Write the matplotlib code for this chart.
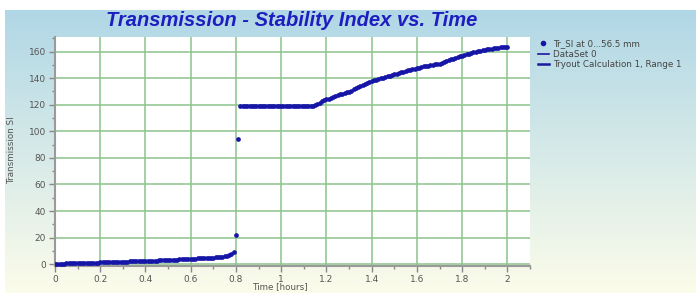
import numpy as np
import matplotlib
matplotlib.use("Agg")
import matplotlib.pyplot as plt
from matplotlib.lines import Line2D
from matplotlib.ticker import MultipleLocator, FuncFormatter

# sample times (hours)
time_h = [
    0.00, 0.01, 0.02, 0.03, 0.04, 0.05, 0.06, 0.07, 0.08, 0.09,
    0.10, 0.11, 0.12, 0.13, 0.14, 0.15, 0.16, 0.17, 0.18, 0.19,
    0.20, 0.21, 0.22, 0.23, 0.24, 0.25, 0.26, 0.27, 0.28, 0.29,
    0.30, 0.31, 0.32, 0.33, 0.34, 0.35, 0.36, 0.37, 0.38, 0.39,
    0.40, 0.41, 0.42, 0.43, 0.44, 0.45, 0.46, 0.47, 0.48, 0.49,
    0.50, 0.51, 0.52, 0.53, 0.54, 0.55, 0.56, 0.57, 0.58, 0.59,
    0.60, 0.61, 0.62, 0.63, 0.64, 0.65, 0.66, 0.67, 0.68, 0.69,
    0.70, 0.71, 0.72, 0.73, 0.74, 0.75, 0.76, 0.77, 0.78, 0.79,
    0.80, 0.81, 0.82, 0.83, 0.84, 0.85, 0.86, 0.87, 0.88, 0.89,
    0.90, 0.91, 0.92, 0.93, 0.94, 0.95, 0.96, 0.97, 0.98, 0.99,
    1.00, 1.01, 1.02, 1.03, 1.04, 1.05, 1.06, 1.07, 1.08, 1.09,
    1.10, 1.11, 1.12, 1.13, 1.14, 1.15, 1.16, 1.17, 1.18, 1.19,
    1.20, 1.21, 1.22, 1.23, 1.24, 1.25, 1.26, 1.27, 1.28, 1.29,
    1.30, 1.31, 1.32, 1.33, 1.34, 1.35, 1.36, 1.37, 1.38, 1.39,
    1.40, 1.41, 1.42, 1.43, 1.44, 1.45, 1.46, 1.47, 1.48, 1.49,
    1.50, 1.51, 1.52, 1.53, 1.54, 1.55, 1.56, 1.57, 1.58, 1.59,
    1.60, 1.61, 1.62, 1.63, 1.64, 1.65, 1.66, 1.67, 1.68, 1.69,
    1.70, 1.71, 1.72, 1.73, 1.74, 1.75, 1.76, 1.77, 1.78, 1.79,
    1.80, 1.81, 1.82, 1.83, 1.84, 1.85, 1.86, 1.87, 1.88, 1.89,
    1.90, 1.91, 1.92, 1.93, 1.94, 1.95, 1.96, 1.97, 1.98, 1.99,
    2.00,
]

# Tr_SI at 0...56.5 mm
tr_si = [
    0.3, 0.35, 0.4, 0.45, 0.5, 0.55, 0.6, 0.65, 0.7, 0.75,
    0.8, 0.85, 0.9, 0.95, 1.0, 1.05, 1.1, 1.15, 1.2, 1.25,
    1.3, 1.35, 1.4, 1.45, 1.5, 1.6, 1.65, 1.7, 1.75, 1.8,
    1.9, 1.95, 2.0, 2.05, 2.1, 2.15, 2.2, 2.25, 2.3, 2.35,
    2.4, 2.5, 2.55, 2.6, 2.7, 2.75, 2.8, 2.9, 3.0, 3.1,
    3.2, 3.3, 3.35, 3.4, 3.5, 3.6, 3.65, 3.7, 3.8, 3.9,
    4.0, 4.1, 4.2, 4.3, 4.4, 4.5, 4.6, 4.7, 4.8, 4.9,
    5.0, 5.1, 5.3, 5.4, 5.6, 5.8, 6.1, 6.6, 7.4, 9.0,
    22.0, 94.0, 118.8, 119.0, 119.0, 119.1, 119.0, 118.9, 119.0, 119.0,
    119.1, 119.0, 119.0, 118.9, 119.0, 119.0, 119.1, 119.0, 119.0, 119.0,
    118.9, 119.0, 119.0, 119.1, 119.0, 119.0, 119.0, 118.9, 119.0, 119.0,
    119.1, 119.0, 119.0, 119.0, 119.2, 119.6, 120.3, 121.5, 122.5, 123.3,
    124.0, 124.7, 125.4, 126.0, 126.6, 127.2, 127.8, 128.3, 128.8, 129.3,
    129.8, 130.6, 131.5, 132.4, 133.3, 134.1, 135.0, 135.8, 136.6, 137.3,
    138.0, 138.5, 139.0, 139.5, 140.0, 140.5, 141.0, 141.5, 142.0, 142.5,
    143.0, 143.5, 144.0, 144.5, 145.0, 145.5, 146.0, 146.4, 146.8, 147.2,
    147.6, 148.0, 148.4, 148.8, 149.1, 149.4, 149.7, 150.0, 150.3, 150.6,
    151.0, 151.5, 152.1, 152.8, 153.5, 154.2, 154.8, 155.4, 156.0, 156.5,
    157.0, 157.5, 158.0, 158.5, 159.0, 159.5, 159.9, 160.3, 160.7, 161.1,
    161.5, 161.8, 162.1, 162.3, 162.5, 162.7, 162.9, 163.1, 163.2, 163.3,
    163.5,
]

legend_labels = ["Tr_SI at 0...56.5 mm", "DataSet 0", "Tryout Calculation 1, Range 1"]

W, H = 696, 293
fig = plt.figure(figsize=(W / 100, H / 100), dpi=100)
fig.patch.set_facecolor("white")

# gradient background (light blue at top -> pale yellow at bottom), white strip on top/left
bg = fig.add_axes([5 / W, 0, 1 - 5 / W, 1 - 10 / H], zorder=-10)
top = np.array([176, 215, 230]) / 255
bot = np.array([252, 252, 234]) / 255
t = np.linspace(0, 1, 256)[:, None]
grad = top[None, :] * (1 - t) + bot[None, :] * t
bg.imshow(grad[:, None, :].repeat(2, axis=1), aspect="auto", extent=[0, 1, 0, 1])
bg.set_axis_off()

ax = fig.add_axes([55 / W, 1 - 265.5 / H, (530 - 55) / W, (265.5 - 37) / H])
ax.set_facecolor("white")

dot_color = "#1515a8"
ax.plot(time_h, tr_si, "o", color=dot_color, markersize=3.4, markeredgewidth=0, zorder=3)

ax.set_xlim(0, 2.1)
ax.set_ylim(-1, 171)
ax.xaxis.set_major_locator(MultipleLocator(0.2))
ax.xaxis.set_minor_locator(MultipleLocator(0.1))
ax.yaxis.set_major_locator(MultipleLocator(20))
ax.yaxis.set_minor_locator(MultipleLocator(10))
ax.xaxis.set_major_formatter(FuncFormatter(lambda v, p: f"{v:g}"))
ax.grid(True, which="major", color="#8cc48c", linewidth=1.1)
ax.set_axisbelow(True)

for s in ["top", "right"]:
    ax.spines[s].set_visible(False)
for s in ["left", "bottom"]:
    ax.spines[s].set_color("#9a9a9a")
    ax.spines[s].set_linewidth(1.5)
ax.tick_params(which="both", colors="#888888", labelcolor="#555555", labelsize=6.5)
ax.tick_params(which="major", length=4, width=1, pad=2.5)
ax.tick_params(which="minor", length=2, width=1)

fig.text(280 / W, 1 - 287 / H, "Time [hours]", ha="center", va="center",
         fontsize=6.3, color="#555555")
fig.text(12 / W, 1 - 150 / H, "Transmission SI", ha="center", va="center",
         rotation=90, fontsize=6.3, color="#555555")

fig.text(292 / W, 1 - 20 / H, "Transmission - Stability Index vs. Time",
         ha="center", va="center", fontsize=14.5, fontweight="bold", fontstyle="italic",
         color="#1e1ec0", family="Liberation Sans")

handles = [
    Line2D([], [], linestyle="none", marker="o", color=dot_color, markersize=3),
    Line2D([], [], color="#1a1aa0", linewidth=1.2),
    Line2D([], [], color="#1a1aa0", linewidth=1.8),
]
fig.legend(handles, legend_labels, loc="upper left", bbox_to_anchor=(534 / W, 1 - 36 / H),
           frameon=False, fontsize=6.3, handlelength=1.3, handletextpad=0.5,
           labelspacing=0.15, borderaxespad=0, labelcolor="#444444")

fig.savefig("out.png", dpi=100)
